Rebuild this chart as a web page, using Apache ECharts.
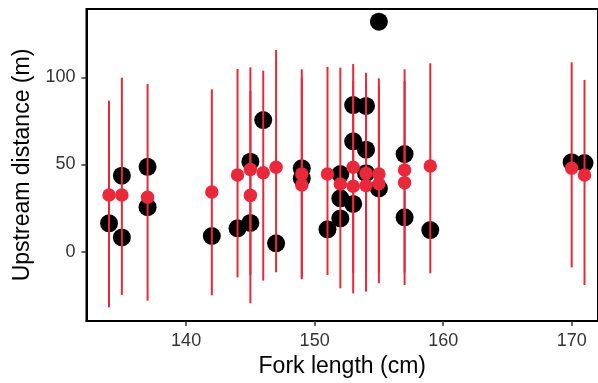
<!DOCTYPE html>
<html>
<head>
<meta charset="utf-8">
<script src="https://cdn.jsdelivr.net/npm/echarts@6/dist/echarts.min.js"></script>
<style>
html,body{margin:0;padding:0;background:#fff;}
#chart{width:598px;height:383px;}
</style>
</head>
<body>
<div id="chart"></div>
<script>
// Observed fish (black points)
const obsLength = [134, 135, 135, 137, 137, 142, 144, 145, 145, 146, 147, 149, 149, 151, 152, 152, 152, 153, 153, 153, 154, 154, 154, 155, 155, 157, 157, 159, 170, 171];
const obsDistance = [16.3, 43.6, 8.2, 48.7, 25.5, 9.0, 13.4, 51.6, 16.5, 75.5, 4.8, 47.8, 42.1, 12.8, 44.5, 30.6, 19.1, 84.1, 63.3, 27.4, 83.6, 58.5, 45.0, 131.9, 36.3, 56.0, 19.7, 12.4, 51.3, 50.8];

// Predicted values with intervals (red points and bars)
const predLength = [134, 135, 137, 142, 144, 145, 145, 146, 147, 149, 149, 151, 152, 153, 153, 154, 154, 155, 155, 157, 157, 159, 170, 171];
const predMean = [32.5, 32.5, 31.2, 34.2, 44.0, 47.2, 32.3, 45.3, 48.4, 44.5, 38.2, 44.5, 38.8, 48.4, 37.5, 45.0, 38.0, 44.5, 39.0, 46.8, 39.6, 49.1, 47.8, 44.0];
const predLow = [-31.9, -24.8, -28.1, -25.0, -14.7, -13.5, -29.6, -16.6, -11.8, -15.8, -15.0, -13.4, -21.0, -12.0, -23.9, -15.0, -22.9, -12.0, -18.1, -12.0, -19.1, -12.4, -9.0, -19.1];
const predHigh = [86.6, 99.8, 96.2, 93.1, 104.8, 105.7, 92.0, 103.8, 115.7, 104.6, 100.0, 106.0, 105.5, 107.6, 98.0, 102.6, 96.0, 99.4, 95.0, 104.6, 98.0, 108.0, 108.6, 98.5];

const xTicks = [140, 150, 160, 170];
const yTicks = [0, 50, 100];

const RED = '#e8293b';

const obsData = obsLength.map((x, i) => [x, obsDistance[i]]);
const predData = predLength.map((x, i) => [x, predMean[i]]);
const barData = predLength.map((x, i) => [x, predLow[i], predHigh[i]]);

const chart = echarts.init(document.getElementById('chart'), null, {renderer: 'canvas'});
chart.setOption({
  animation: false,
  backgroundColor: '#fff',
  grid: {
    left: 86.5, right: -2, top: 9, bottom: 62,
    show: true, borderColor: '#000', borderWidth: 2, backgroundColor: 'transparent'
  },
  xAxis: {
    type: 'value',
    min: 132.248, max: 172.05,
    name: 'Fork length (cm)',
    nameLocation: 'middle',
    nameGap: 33,
    nameTextStyle: {fontFamily: 'Liberation Sans', fontSize: 23, color: '#000'},
    splitLine: {show: false},
    axisLine: {show: true, onZero: false, lineStyle: {color: '#000', width: 2}},
    axisTick: {show: true, length: 5, customValues: xTicks, lineStyle: {color: '#333', width: 1.5}},
    axisLabel: {customValues: xTicks, margin: 11, fontFamily: 'Liberation Sans', fontSize: 18, color: '#333'}
  },
  yAxis: {
    type: 'value',
    min: -39.74, max: 139.16,
    name: 'Upstream distance (m)',
    nameLocation: 'middle',
    nameGap: 45,
    nameTextStyle: {fontFamily: 'Liberation Sans', fontSize: 23, color: '#000'},
    splitLine: {show: false},
    axisLine: {show: true, onZero: false, lineStyle: {color: '#000', width: 2}},
    axisTick: {show: true, length: 5, customValues: yTicks, lineStyle: {color: '#333', width: 1.5}},
    axisLabel: {customValues: yTicks, margin: 11, fontFamily: 'Liberation Sans', fontSize: 18, color: '#333'}
  },
  series: [
    {
      type: 'scatter',
      data: obsData,
      symbol: 'circle',
      symbolSize: 18,
      itemStyle: {color: '#000', opacity: 1},
      z: 2
    },
    {
      type: 'custom',
      data: barData,
      encode: {x: 0, y: [1, 2]},
      renderItem: function (params, api) {
        const x = api.value(0);
        const lo = api.coord([x, api.value(1)]);
        const hi = api.coord([x, api.value(2)]);
        return {
          type: 'line',
          shape: {x1: lo[0], y1: lo[1], x2: hi[0], y2: hi[1]},
          style: {stroke: RED, lineWidth: 2}
        };
      },
      z: 3
    },
    {
      type: 'scatter',
      data: predData,
      symbol: 'circle',
      symbolSize: 13.5,
      itemStyle: {color: RED, opacity: 1},
      z: 4
    }
  ]
});
</script>
</body>
</html>
